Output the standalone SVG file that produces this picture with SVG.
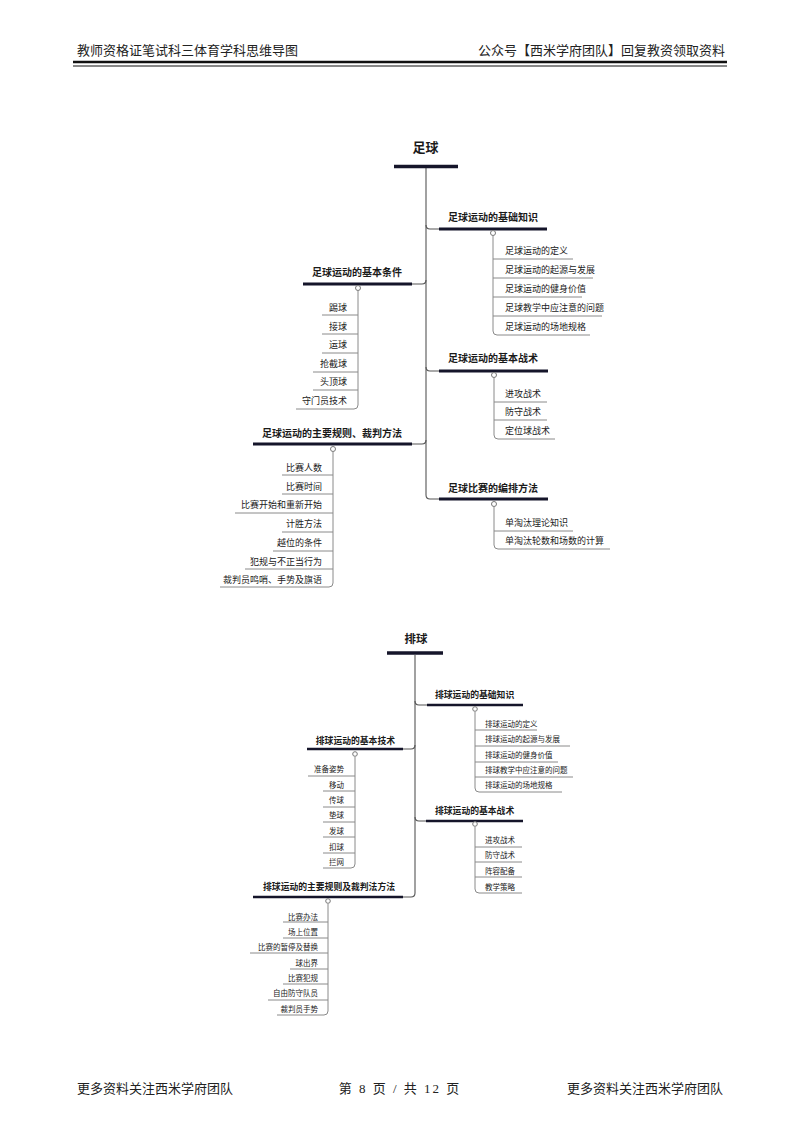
<svg xmlns="http://www.w3.org/2000/svg" width="800" height="1131" viewBox="0 0 800 1131">
<style>
text{font-family:"Noto Sans CJK SC","Noto Sans",sans-serif;fill:#1a1a1a;dominant-baseline:central}
.hf{font-family:"Liberation Serif","Noto Sans CJK SC",serif;font-size:13px;fill:#222;dominant-baseline:auto}
.root1{font-size:13px;font-weight:bold}
.root2{font-size:11.5px;font-weight:bold}
.b1{font-size:10px;font-weight:bold}
.b2{font-size:8.8px;font-weight:bold}
.c1{font-size:9px}
.c2{font-size:7.5px}
.ru{stroke:#15152a;stroke-width:3.5;fill:none}
.bu{stroke:#15152a;stroke-width:3;fill:none}
.bu2{stroke:#15152a;stroke-width:2.5;fill:none}
.cn{stroke:#555;stroke-width:1.1;fill:none}
.cl{stroke:#8a8a8a;stroke-width:1;fill:none}
.dot{fill:#fff;stroke:#777;stroke-width:1}
.end{text-anchor:end}
</style>
<rect width="800" height="1131" fill="#fff"/>
<g id="header">
<text class="hf" x="77" y="55">教师资格证笔试科三体育学科思维导图</text>
<text class="hf" x="725" y="55" text-anchor="end">公众号【西米学府团队】回复教资领取资料</text>
<line x1="73" y1="62" x2="727" y2="62" stroke="#111" stroke-width="2.5"/>
<line x1="73" y1="66" x2="727" y2="66" stroke="#111" stroke-width="1"/>
</g>
<g id="footer">
<text class="hf" x="77" y="1093">更多资料关注西米学府团队</text>
<text class="hf" x="400" y="1093" text-anchor="middle" letter-spacing="2" xml:space="preserve">第 8 页 / 共 12 页</text>
<text class="hf" x="723" y="1093" text-anchor="end">更多资料关注西米学府团队</text>
</g>
<g id="connectors">
<path class="cn" d="M426,168 V495 Q426,499 430,499 H439"/>
<path class="cn" d="M426,225 Q426,229 430,229 H439"/>
<path class="cn" d="M426,280 Q426,284 422,284 H412"/>
<path class="cn" d="M426,367 Q426,371 430,371 H439"/>
<path class="cn" d="M426,440 Q426,444 422,444 H412"/>
<path class="cn" d="M415,655 V893 Q415,897 411,897 H403"/>
<path class="cn" d="M415,701 Q415,705 419,705 H427"/>
<path class="cn" d="M415,745 Q415,749 411,749 H403"/>
<path class="cn" d="M415,817 Q415,821 419,821 H426"/>
</g>
<g id="football-root">
<text class="root1" x="425.5" y="146" text-anchor="middle">足球</text>
<line class="ru" x1="394" y1="166.5" x2="458" y2="166.5"/>
</g>
<g id="fb-basic-knowledge">
<text class="b1" x="448" y="216">足球运动的基础知识</text>
<line class="bu" x1="439" y1="229" x2="547" y2="229"/>
<path class="cl" d="M493,236 V331 Q493,335 497,335 H590"/>
<line class="cl" x1="493" y1="259" x2="573" y2="259"/>
<line class="cl" x1="493" y1="278" x2="593" y2="278"/>
<line class="cl" x1="493" y1="297" x2="582" y2="297"/>
<line class="cl" x1="493" y1="316" x2="602" y2="316"/>
<circle class="dot" cx="493" cy="233" r="2.5"/>
<text class="c1" x="505" y="250">足球运动的定义</text>
<text class="c1" x="505" y="269">足球运动的起源与发展</text>
<text class="c1" x="505" y="288">足球运动的健身价值</text>
<text class="c1" x="505" y="307">足球教学中应注意的问题</text>
<text class="c1" x="505" y="326">足球运动的场地规格</text>
</g>
<g id="fb-basic-conditions">
<text class="b1 end" x="402" y="271">足球运动的基本条件</text>
<line class="bu" x1="303" y1="284" x2="412" y2="284"/>
<path class="cl" d="M358,291 V405 Q358,409 354,409 H296"/>
<line class="cl" x1="322" y1="315" x2="358" y2="315"/>
<line class="cl" x1="322" y1="334" x2="358" y2="334"/>
<line class="cl" x1="322" y1="353" x2="358" y2="353"/>
<line class="cl" x1="313" y1="372" x2="358" y2="372"/>
<line class="cl" x1="313" y1="390" x2="358" y2="390"/>
<circle class="dot" cx="358" cy="288" r="2.5"/>
<text class="c1 end" x="347" y="307">踢球</text>
<text class="c1 end" x="347" y="326">接球</text>
<text class="c1 end" x="347" y="344">运球</text>
<text class="c1 end" x="347" y="363">抢截球</text>
<text class="c1 end" x="347" y="381">头顶球</text>
<text class="c1 end" x="347" y="400">守门员技术</text>
</g>
<g id="fb-basic-tactics">
<text class="b1" x="448" y="357">足球运动的基本战术</text>
<line class="bu" x1="439" y1="371" x2="548" y2="371"/>
<path class="cl" d="M494,378 V435 Q494,439 498,439 H555"/>
<line class="cl" x1="494" y1="402" x2="547" y2="402"/>
<line class="cl" x1="494" y1="420" x2="547" y2="420"/>
<circle class="dot" cx="494" cy="375" r="2.5"/>
<text class="c1" x="505" y="393">进攻战术</text>
<text class="c1" x="505" y="411">防守战术</text>
<text class="c1" x="505" y="430">定位球战术</text>
</g>
<g id="fb-rules">
<text class="b1 end" x="402" y="432">足球运动的主要规则、裁判方法</text>
<line class="bu" x1="253" y1="444" x2="412" y2="444"/>
<path class="cl" d="M333,452 V583 Q333,587 329,587 H220"/>
<line class="cl" x1="282" y1="475" x2="333" y2="475"/>
<line class="cl" x1="282" y1="494" x2="333" y2="494"/>
<line class="cl" x1="235" y1="513" x2="333" y2="513"/>
<line class="cl" x1="282" y1="532" x2="333" y2="532"/>
<line class="cl" x1="273" y1="551" x2="333" y2="551"/>
<line class="cl" x1="245" y1="569" x2="333" y2="569"/>
<circle class="dot" cx="333" cy="449" r="2.5"/>
<text class="c1 end" x="322" y="467">比赛人数</text>
<text class="c1 end" x="322" y="486">比赛时间</text>
<text class="c1 end" x="322" y="504">比赛开始和重新开始</text>
<text class="c1 end" x="322" y="523">计胜方法</text>
<text class="c1 end" x="322" y="542">越位的条件</text>
<text class="c1 end" x="322" y="561">犯规与不正当行为</text>
<text class="c1 end" x="322" y="579">裁判员鸣哨、手势及旗语</text>
</g>
<g id="fb-arrangement">
<text class="b1" x="448" y="487">足球比赛的编排方法</text>
<line class="bu" x1="439" y1="499" x2="548" y2="499"/>
<path class="cl" d="M494,507 V545 Q494,549 498,549 H610"/>
<line class="cl" x1="494" y1="531" x2="573" y2="531"/>
<circle class="dot" cx="494" cy="504" r="2.5"/>
<text class="c1" x="505" y="522">单淘汰理论知识</text>
<text class="c1" x="505" y="540">单淘汰轮数和场数的计算</text>
</g>
<g id="volleyball-root">
<text class="root2" x="416" y="638" text-anchor="middle">排球</text>
<line class="ru" x1="387" y1="653" x2="443" y2="653" stroke-width="3"/>
</g>
<g id="vb-basic-knowledge">
<text class="b2" x="435" y="694">排球运动的基础知识</text>
<line class="bu2" x1="427" y1="705" x2="523" y2="705"/>
<path class="cl" d="M475,712 V788 Q475,792 479,792 H562"/>
<line class="cl" x1="475" y1="730" x2="537" y2="730"/>
<line class="cl" x1="475" y1="746" x2="570" y2="746"/>
<line class="cl" x1="475" y1="762" x2="558" y2="762"/>
<line class="cl" x1="475" y1="777" x2="573" y2="777"/>
<circle class="dot" cx="475" cy="709" r="2.3"/>
<text class="c2" x="485" y="723">排球运动的定义</text>
<text class="c2" x="485" y="738">排球运动的起源与发展</text>
<text class="c2" x="485" y="754">排球运动的健身价值</text>
<text class="c2" x="485" y="769">排球教学中应注意的问题</text>
<text class="c2" x="485" y="784">排球运动的场地规格</text>
</g>
<g id="vb-basic-technique">
<text class="b2 end" x="395" y="740">排球运动的基本技术</text>
<line class="bu2" x1="307" y1="749" x2="403" y2="749"/>
<path class="cl" d="M355,757 V864 Q355,868 351,868 H323"/>
<line class="cl" x1="308" y1="776" x2="355" y2="776"/>
<line class="cl" x1="323" y1="791" x2="355" y2="791"/>
<line class="cl" x1="323" y1="807" x2="355" y2="807"/>
<line class="cl" x1="323" y1="822" x2="355" y2="822"/>
<line class="cl" x1="323" y1="837" x2="355" y2="837"/>
<line class="cl" x1="323" y1="853" x2="355" y2="853"/>
<circle class="dot" cx="355" cy="754" r="2.3"/>
<text class="c2 end" x="344" y="768">准备姿势</text>
<text class="c2 end" x="344" y="784">移动</text>
<text class="c2 end" x="344" y="799">传球</text>
<text class="c2 end" x="344" y="814">垫球</text>
<text class="c2 end" x="344" y="830">发球</text>
<text class="c2 end" x="344" y="846">扣球</text>
<text class="c2 end" x="344" y="861">拦网</text>
</g>
<g id="vb-basic-tactics">
<text class="b2" x="435" y="810">排球运动的基本战术</text>
<line class="bu2" x1="426" y1="821" x2="523" y2="821"/>
<path class="cl" d="M475,827 V889 Q475,893 479,893 H522"/>
<line class="cl" x1="475" y1="847" x2="522" y2="847"/>
<line class="cl" x1="475" y1="862" x2="522" y2="862"/>
<line class="cl" x1="475" y1="877" x2="522" y2="877"/>
<circle class="dot" cx="475" cy="824" r="2.3"/>
<text class="c2" x="485" y="839">进攻战术</text>
<text class="c2" x="485" y="854">防守战术</text>
<text class="c2" x="485" y="870">阵容配备</text>
<text class="c2" x="485" y="886">教学策略</text>
</g>
<g id="vb-rules">
<text class="b2 end" x="395" y="886">排球运动的主要规则及裁判法方法</text>
<line class="bu2" x1="253" y1="897" x2="403" y2="897"/>
<path class="cl" d="M328,904 V1011 Q328,1015 324,1015 H277"/>
<line class="cl" x1="283" y1="922" x2="328" y2="922"/>
<line class="cl" x1="283" y1="938" x2="328" y2="938"/>
<line class="cl" x1="250" y1="953" x2="328" y2="953"/>
<line class="cl" x1="290" y1="969" x2="328" y2="969"/>
<line class="cl" x1="283" y1="984" x2="328" y2="984"/>
<line class="cl" x1="268" y1="1000" x2="328" y2="1000"/>
<circle class="dot" cx="328" cy="901" r="2.3"/>
<text class="c2 end" x="318" y="916">比赛办法</text>
<text class="c2 end" x="318" y="931">场上位置</text>
<text class="c2 end" x="318" y="946">比赛的暂停及替换</text>
<text class="c2 end" x="318" y="962">球出界</text>
<text class="c2 end" x="318" y="977">比赛犯规</text>
<text class="c2 end" x="318" y="992">自由防守队员</text>
<text class="c2 end" x="318" y="1008">裁判员手势</text>
</g>
</svg>
